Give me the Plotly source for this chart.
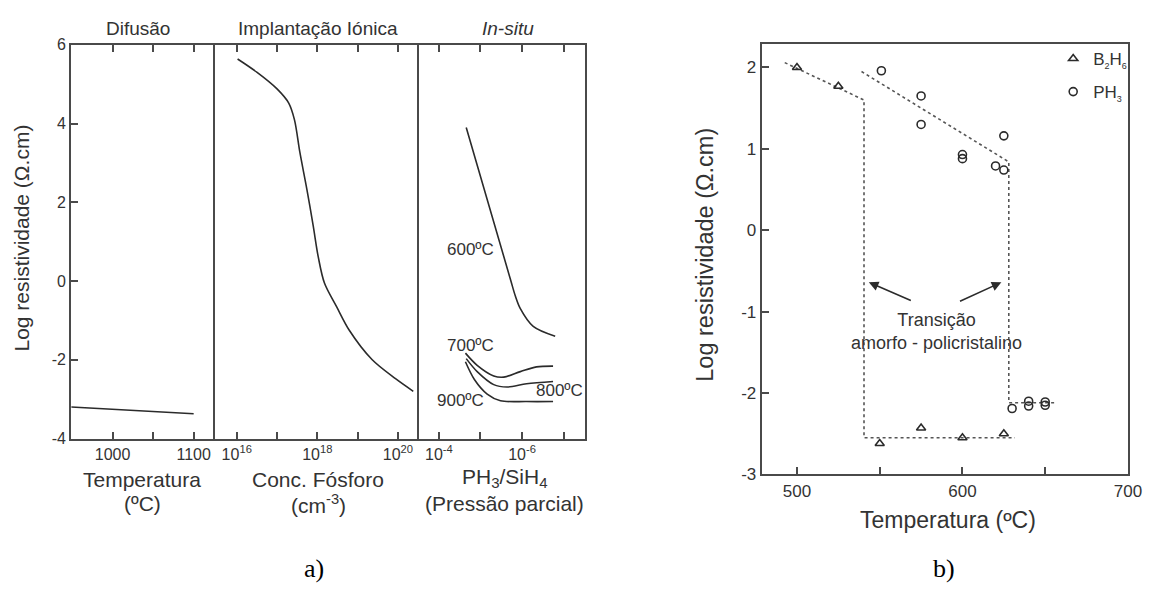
import plotly.graph_objects as go

W, H = 1165, 594
FONT = "Liberation Sans, Arial, sans-serif"
INK = "#2b2b2b"
AX = "#4a4a4a"

# ---------------- panel a data ----------------
dif_temp = [949, 1100]
dif_logres = [-3.20, -3.37]

imp_conc = [1.05e16, 3.2e16, 1.0e17, 1.95e17, 2.7e17, 3.7e17, 5.5e17, 7.9e17,
            1.05e18, 1.5e18, 3.0e18, 6.2e18, 2.3e19, 8.7e19, 2.4e20]
imp_logres = [5.64, 5.30, 4.88, 4.52, 4.10, 3.26, 2.33, 1.40,
              0.62, -0.05, -0.65, -1.25, -2.00, -2.48, -2.80]

ins600_ratio = [2.2e-5, 1.9e-6, 1.45e-6, 1.1e-6, 5.4e-7, 1.6e-7]
ins600_logres = [3.90, 0.04, -0.38, -0.70, -1.15, -1.40]
ins700_ratio = [2.3e-5, 1.2e-5, 4.8e-6, 2.75e-6, 1.1e-6, 4.5e-7, 1.8e-7]
ins700_logres = [-1.83, -2.14, -2.41, -2.44, -2.30, -2.18, -2.16]
ins800_ratio = [2.2e-5, 1.2e-5, 4.8e-6, 2.3e-6, 7.8e-7, 1.8e-7]
ins800_logres = [-1.97, -2.30, -2.63, -2.69, -2.61, -2.55]
ins900_ratio = [2.3e-5, 1.4e-5, 6.9e-6, 3.3e-6, 7.8e-7, 1.8e-7]
ins900_logres = [-2.05, -2.50, -2.87, -3.04, -3.06, -3.06]

a_yticks = [-4, -2, 0, 2, 4, 6]
a_yticktext = ["-4", "-2", "0", "2", "4", "6"]

# ---------------- panel b data ----------------
b2h6_temp = [500, 525, 550, 575, 600, 625]
b2h6_logres = [2.00, 1.77, -2.62, -2.43, -2.55, -2.50]
ph3_temp = [551, 575, 575, 600, 600, 620, 625, 625, 630, 640, 640, 650, 650]
ph3_logres = [1.96, 1.65, 1.30, 0.93, 0.88, 0.79, 1.16, 0.74,
              -2.19, -2.10, -2.16, -2.11, -2.15]
b2h6_fit_temp = [492.6, 540.5, 540.5, 631.7]
b2h6_fit_logres = [2.06, 1.60, -2.55, -2.55]
ph3_fit_temp = [539, 628, 628, 657]
ph3_fit_logres = [1.95, 0.84, -2.12, -2.12]

b_yticks = [-3, -2, -1, 0, 1, 2]
b_yticktext = ["-3", "-2", "-1", "0", "1", "2"]


def px(x):
    return x / W


def py(y):
    return 1 - y / H


fig = go.Figure()
line = dict(color=INK, width=1.6)
spl = dict(color=INK, width=1.6, shape="spline", smoothing=0.9)
fig.add_trace(go.Scatter(x=dif_temp, y=dif_logres, mode="lines", line=line,
                         xaxis="x", yaxis="y", showlegend=False))
fig.add_trace(go.Scatter(x=imp_conc, y=imp_logres, mode="lines", line=spl,
                         xaxis="x2", yaxis="y2", showlegend=False))
for xs, ys in [(ins600_ratio, ins600_logres), (ins700_ratio, ins700_logres),
               (ins800_ratio, ins800_logres), (ins900_ratio, ins900_logres)]:
    fig.add_trace(go.Scatter(x=xs, y=ys, mode="lines", line=spl,
                             xaxis="x3", yaxis="y3", showlegend=False))

dot = dict(color="#555555", width=1.6, dash="dot")
fig.add_trace(go.Scatter(x=b2h6_fit_temp, y=b2h6_fit_logres, mode="lines", line=dot,
                         xaxis="x4", yaxis="y4", showlegend=False))
fig.add_trace(go.Scatter(x=ph3_fit_temp, y=ph3_fit_logres, mode="lines", line=dot,
                         xaxis="x4", yaxis="y4", showlegend=False))
SUB = "<sub><span style='font-size:9px'>%s</span></sub>"
fig.add_trace(go.Scatter(x=b2h6_temp, y=b2h6_logres, mode="markers",
                         marker=dict(symbol="triangle-up-open", size=8, color=INK,
                                     line=dict(width=1.6, color=INK)),
                         name="B" + SUB % "2" + "H" + SUB % "6", legendgroup="a",
                         xaxis="x4", yaxis="y4"))
fig.add_trace(go.Scatter(x=ph3_temp, y=ph3_logres, mode="markers",
                         marker=dict(symbol="circle-open", size=8, color=INK,
                                     line=dict(width=1.6, color=INK)),
                         name="PH" + SUB % "3", legendgroup="b",
                         xaxis="x4", yaxis="y4"))

tickfont_a = dict(family=FONT, size=16, color="#333")
tickfont_b = dict(family=FONT, size=17, color="#333")
common = dict(showline=True, linecolor=AX, linewidth=2, showgrid=False,
              zeroline=False, ticks="inside", ticklen=7, tickwidth=1.5,
              tickcolor=AX)
plain_y = dict(showticklabels=False, showline=True, linecolor=AX, linewidth=2,
               showgrid=False, zeroline=False, ticks="")
ydom_a = [py(444), py(38)]

fig.update_layout(
    width=W, height=H, margin=dict(l=0, r=0, t=0, b=0),
    paper_bgcolor="white", plot_bgcolor="white",
    xaxis=dict(domain=[px(72), px(218)], range=[948.8, 1126.8], anchor="y",
               tickvals=[1000, 1050, 1100], ticktext=["1000", "", "1100"],
               mirror="ticks", tickfont=tickfont_a, **common),
    yaxis=dict(domain=ydom_a, range=[-4, 6], anchor="x",
               tickvals=a_yticks, ticktext=a_yticktext,
               mirror=False, tickfont=tickfont_a, **common),
    xaxis2=dict(domain=[px(218), px(424)], type="log", range=[15.47, 20.52], anchor="y2",
                tickvals=[1e16, 1e17, 1e18, 1e19, 1e20],
                ticktext=["10<sup>16</sup>", "", "10<sup>18</sup>", "", "10<sup>20</sup>"],
                mirror="ticks", tickfont=tickfont_a, **common),
    yaxis2=dict(domain=ydom_a, range=[-4, 6], anchor="x2", mirror=False, **plain_y),
    xaxis3=dict(domain=[px(424), px(592)], type="log", range=[-3.52, -7.51], anchor="y3",
                tickvals=[1e-4, 1e-5, 1e-6, 1e-7],
                ticktext=["10<sup>-4</sup>", "", "10<sup>-6</sup>", ""],
                mirror="ticks", tickfont=tickfont_a, **common),
    yaxis3=dict(domain=ydom_a, range=[-4, 6], anchor="x3", mirror=True, **plain_y),
    xaxis4=dict(domain=[px(771), px(1142)], range=[478.7, 700.2], anchor="y4",
                tickvals=[500, 550, 600, 650, 700],
                ticktext=["500", "", "600", "", "700"],
                mirror=True, tickfont=tickfont_b, **common),
    yaxis4=dict(domain=[py(481), py(37)], range=[-3, 2.29], anchor="x4",
                tickvals=b_yticks, ticktext=b_yticktext,
                mirror=True, tickfont=tickfont_b, **common),
    legend=dict(x=px(1066), y=py(34), xanchor="left", yanchor="top",
                bgcolor="rgba(0,0,0,0)", font=dict(family=FONT, size=17, color="#333"),
                tracegroupgap=8, itemwidth=30),
    showlegend=True,
)


def ann(text, x, y, size, angle=0, family=FONT, color="#333"):
    fig.add_annotation(text=text, x=px(x), y=py(y), xref="paper", yref="paper",
                       showarrow=False, xanchor="center", yanchor="middle",
                       textangle=angle, font=dict(family=family, size=size, color=color))


SUBA = "<sub><span style='font-size:15px'>%s</span></sub>"
# panel a titles
ann("Difusão", 140, 21, 19)
ann("Implantação Iónica", 322, 21, 19)
ann("<i>In-situ</i>", 514, 21, 19)
ann("Temperatura", 144, 486, 21)
ann("(ºC)", 144, 511, 21)
ann("Conc. Fósforo", 322, 486, 21)
ann("(cm<sup>-3</sup>)", 322, 511, 21)
ann("PH" + SUBA % "3" + "/SiH" + SUBA % "4", 511, 485, 21)
ann("(Pressão parcial)", 511, 511, 21)
ann("Log resistividade (Ω.cm)", 22, 237, 21, angle=-90)
ann("a)", 318, 578, 26, family="Liberation Serif, Times New Roman, serif", color="#000")

# panel b titles
ann("Temperatura (ºC)", 960, 528, 23)
ann("Log resistividade (Ω.cm)", 714, 254, 23.5, angle=-90)
ann("b)", 955, 578, 26, family="Liberation Serif, Times New Roman, serif", color="#000")

# in-situ curve labels (data coords, log10 for log axis)
for txt, lx, ly in [("600ºC", -4.76, 0.80), ("700ºC", -4.75, -1.64),
                    ("800ºC", -6.91, -2.79), ("900ºC", -4.53, -3.04)]:
    fig.add_annotation(text=txt, x=lx, y=ly, xref="x3", yref="y3", showarrow=False,
                       font=dict(family=FONT, size=17, color="#333"))

# panel b transition annotation and arrows
fig.add_annotation(text="Transição<br>amorfo - policristalino", x=584.4, y=-1.24,
                   xref="x4", yref="y4", showarrow=False,
                   font=dict(family=FONT, size=18, color="#333"))
for hx, hy, tx, ty in [(543.4, -0.64, 569.7, -0.87), (623.5, -0.64, 597.6, -0.88)]:
    fig.add_annotation(text="", x=hx, y=hy, ax=tx, ay=ty, xref="x4", yref="y4",
                       axref="x4", ayref="y4", showarrow=True, arrowhead=2,
                       arrowsize=1.2, arrowwidth=1.6, arrowcolor=INK)

fig.write_html("out.html")
